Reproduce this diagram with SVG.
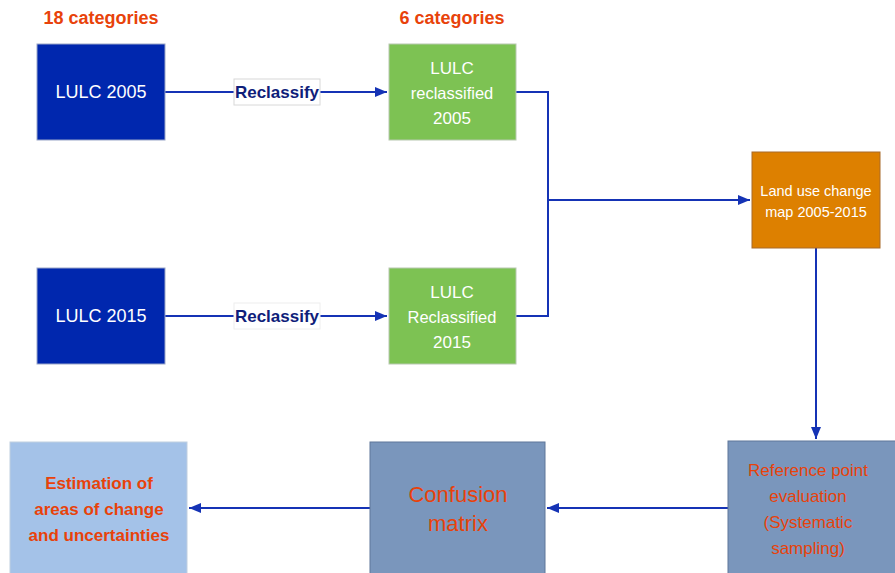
<svg xmlns="http://www.w3.org/2000/svg" width="895" height="573" viewBox="0 0 895 573">
<style>
text{font-family:"Liberation Sans",Arial,sans-serif;text-anchor:middle;dominant-baseline:central}
.w{fill:#ffffff}
.o{fill:#E8420A}
.hd{font-size:18px;font-weight:bold}
.lbl{font-size:17px;font-weight:bold;fill:#0F1E7A}
.ln{stroke:#1533B5;stroke-width:2;fill:none}
</style>
<defs>
<marker id="ah" viewBox="0 0 12 10" refX="12" refY="5" markerWidth="12" markerHeight="10" markerUnits="userSpaceOnUse" orient="auto">
<path d="M0,0 L12,5 L0,10 Z" fill="#1533B5"/>
</marker>
</defs>
<text class="o hd" x="101" y="18">18 categories</text>
<text class="o hd" x="452" y="18">6 categories</text>
<g id="connectors">
<path class="ln" d="M165,92 H387" marker-end="url(#ah)"/>
<path class="ln" d="M165,316 H387" marker-end="url(#ah)"/>
<path class="ln" d="M516,92 H548 V316 H516"/>
<path class="ln" d="M548,200 H750" marker-end="url(#ah)"/>
<path class="ln" d="M816,248 V439" marker-end="url(#ah)"/>
<path class="ln" d="M728,508 H547" marker-end="url(#ah)"/>
<path class="ln" d="M370,508 H189" marker-end="url(#ah)"/>
<rect x="234" y="79" width="86" height="26" fill="#ffffff" stroke="#d8d8d8" stroke-width="1"/>
<text class="lbl" x="277" y="92">Reclassify</text>
<rect x="234" y="303" width="86" height="26" fill="#ffffff" stroke="#eeeeee" stroke-width="1"/>
<text class="lbl" x="277" y="316">Reclassify</text>
</g>
<g id="lulc2005">
<rect x="37" y="44" width="128" height="96" fill="#0027AE" stroke="#9aa6c8" stroke-width="1"/>
<text class="w" x="101" y="92" font-size="18">LULC 2005</text>
</g>
<g id="lulc2015">
<rect x="37" y="268" width="128" height="96" fill="#0027AE" stroke="#9aa6c8" stroke-width="1"/>
<text class="w" x="101" y="316" font-size="18">LULC 2015</text>
</g>
<g id="reclass2005">
<rect x="389" y="44" width="127" height="96" fill="#7DC253" stroke="#b8c8b0" stroke-width="1"/>
<text class="w" x="452" y="68" font-size="17">LULC</text>
<text class="w" x="452" y="93" font-size="16.5">reclassified</text>
<text class="w" x="452" y="118" font-size="17">2005</text>
</g>
<g id="reclass2015">
<rect x="389" y="268" width="127" height="96" fill="#7DC253" stroke="#b8c8b0" stroke-width="1"/>
<text class="w" x="452" y="292" font-size="17">LULC</text>
<text class="w" x="452" y="317" font-size="16.5">Reclassified</text>
<text class="w" x="452" y="342" font-size="17">2015</text>
</g>
<g id="changemap">
<rect x="752" y="152" width="128" height="96" fill="#DD8000" stroke="#a86a2a" stroke-width="1"/>
<text class="w" x="816" y="191" font-size="14.5">Land use change</text>
<text class="w" x="816" y="212" font-size="14.5">map 2005-2015</text>
</g>
<g id="reference">
<rect x="728" y="441" width="170" height="135" fill="#7A96BC" stroke="#5f7799" stroke-width="1"/>
<text class="o" x="808" y="470" font-size="17">Reference point</text>
<text class="o" x="808" y="496" font-size="17">evaluation</text>
<text class="o" x="808" y="522" font-size="17">(Systematic</text>
<text class="o" x="808" y="548" font-size="17">sampling)</text>
</g>
<g id="confusion">
<rect x="370" y="442" width="175" height="134" fill="#7A96BC" stroke="#5f7799" stroke-width="1"/>
<text class="o" x="458" y="494" font-size="22">Confusion</text>
<text class="o" x="458" y="523" font-size="22">matrix</text>
</g>
<g id="estimation">
<rect x="10" y="442" width="177" height="134" fill="#A4C2E8" stroke="#c0cfe0" stroke-width="1"/>
<text class="o" x="99" y="483" font-size="17" font-weight="bold">Estimation of</text>
<text class="o" x="99" y="509" font-size="17" font-weight="bold">areas of change</text>
<text class="o" x="99" y="535" font-size="17" font-weight="bold">and uncertainties</text>
</g>
</svg>
